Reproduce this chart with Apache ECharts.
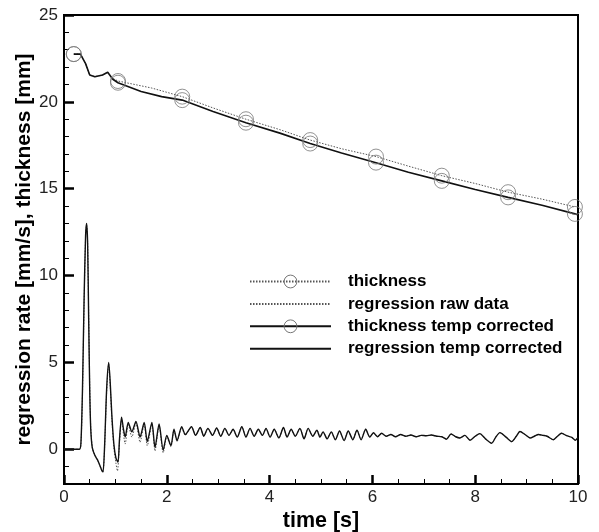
<!DOCTYPE html>
<html>
<head>
<meta charset="utf-8">
<script src="https://cdn.jsdelivr.net/npm/echarts@6/dist/echarts.min.js"></script>
<style>html,body{margin:0;padding:0;background:#fff}#c{width:599px;height:532px}</style>
</head>
<body>
<div id="c"></div>
<script>
// ---------- data ----------
const xTicks = [0, 2, 4, 6, 8, 10];
const yTicks = [0, 5, 10, 15, 20, 25];
const seriesNames = ['thickness', 'regression raw data', 'thickness temp corrected', 'regression temp corrected'];

// thickness (raw) line [t, mm]
const thickRaw = [[0.19,22.75],[0.32,22.75],[0.42,22.2],[0.5,21.55],[0.6,21.45],[0.75,21.55],[0.85,21.7],[0.95,21.35],[1.05,21.2],[1.7,20.8],[2.3,20.3],[2.9,19.65],[3.54,19.0],[4.2,18.4],[4.79,17.8],[5.4,17.3],[6.07,16.85],[6.7,16.3],[7.35,15.75],[8.0,15.3],[8.64,14.8],[9.3,14.4],[9.94,13.95]];
// thickness temp corrected line [t, mm]
const thickCorr = [[0.19,22.75],[0.32,22.75],[0.42,22.2],[0.5,21.55],[0.6,21.45],[0.75,21.55],[0.85,21.7],[0.95,21.3],[1.05,21.1],[1.5,20.6],[1.9,20.3],[2.3,20.1],[2.9,19.45],[3.54,18.8],[4.2,18.2],[4.79,17.6],[5.4,17.05],[6.07,16.5],[6.7,15.95],[7.35,15.45],[8.0,14.95],[8.64,14.5],[9.3,14.05],[9.94,13.55],[10,13.5]];
// circle markers
const markTimes = [0.19, 1.05, 2.3, 3.54, 4.79, 6.07, 7.35, 8.64, 9.94];
const markRaw = [22.75, 21.2, 20.3, 19.0, 17.8, 16.85, 15.75, 14.8, 13.95];
const markCorr = [22.75, 21.1, 20.1, 18.8, 17.6, 16.5, 15.45, 14.5, 13.55];

// regression temp corrected [t, mm/s]
const regCorr = [[0,0],[0.30,0],[0.33,0.4],[0.36,3.5],[0.39,8.5],[0.42,12.3],[0.44,13.0],[0.46,11.8],[0.48,7.5],[0.50,3.5],[0.52,1.2],[0.55,0.1],[0.60,-0.35],[0.65,-0.6],[0.70,-0.95],[0.74,-1.25],[0.76,-1.3],[0.79,0.2],[0.83,3.5],[0.87,5.0],[0.90,3.8],[0.93,2.0],[0.97,0.3],[1.01,-0.5],[1.05,-0.75],[1.08,0.6],[1.12,1.85],[1.16,1.1],[1.19,0.7],[1.25,1.55],[1.32,1.0],[1.40,1.6],[1.48,0.7],[1.56,1.55],[1.62,0.45],[1.71,1.55],[1.77,0.1],[1.85,1.45],[1.93,-0.05],[2.00,0.8],[2.08,0.2],[2.14,1.15],[2.20,0.5],[2.29,1.3],[2.36,0.85],[2.48,1.3],[2.56,0.8],[2.65,1.25],[2.72,0.75],[2.80,1.2],[2.89,0.8],[2.97,1.22],[3.05,0.75],[3.13,1.2],[3.21,0.8],[3.29,1.15],[3.37,0.7],[3.46,1.3],[3.54,0.7],[3.62,1.2],[3.70,0.75],[3.78,1.15],[3.86,0.8],[3.93,1.2],[4.01,0.7],[4.09,1.15],[4.18,0.65],[4.27,1.25],[4.34,0.7],[4.42,1.15],[4.50,0.75],[4.59,1.2],[4.67,0.6],[4.75,1.2],[4.84,0.75],[4.92,1.1],[4.98,0.7],[5.04,1.0],[5.12,0.6],[5.20,1.0],[5.28,0.55],[5.36,1.05],[5.45,0.5],[5.53,1.05],[5.62,0.55],[5.70,1.1],[5.78,0.55],[5.87,1.15],[5.95,0.7],[6.02,0.95],[6.10,0.72],[6.18,0.92],[6.27,0.75],[6.36,0.85],[6.45,0.72],[6.55,0.85],[6.65,0.75],[6.75,0.82],[6.85,0.72],[6.95,0.8],[7.05,0.78],[7.15,0.82],[7.25,0.75],[7.35,0.72],[7.44,0.58],[7.53,0.88],[7.62,0.72],[7.70,0.65],[7.80,0.8],[7.90,0.52],[8.00,0.75],[8.09,0.9],[8.20,0.6],[8.32,0.35],[8.40,0.7],[8.48,0.96],[8.60,0.7],[8.71,0.44],[8.80,0.75],[8.87,1.02],[8.97,0.85],[9.07,0.65],[9.15,0.75],[9.23,0.85],[9.32,0.8],[9.40,0.75],[9.52,0.55],[9.60,0.75],[9.68,0.92],[9.78,0.78],[9.88,0.68],[9.95,0.52],[10,0.68]];
// regression raw data [t, mm/s]
const regRaw = [[0,0],[0.30,0],[0.33,0.3],[0.36,3.2],[0.39,8.2],[0.42,12.2],[0.44,12.9],[0.46,11.9],[0.48,7.8],[0.50,3.8],[0.52,1.3],[0.55,0.15],[0.60,-0.35],[0.65,-0.6],[0.70,-0.95],[0.74,-1.25],[0.76,-1.3],[0.79,0.1],[0.83,3.3],[0.87,4.9],[0.90,3.6],[0.93,1.8],[0.97,0.1],[1.01,-0.8],[1.04,-1.25],[1.08,0.4],[1.12,1.7],[1.16,0.8],[1.19,0.3],[1.25,1.45],[1.32,0.7],[1.40,1.5],[1.48,0.4],[1.56,1.45],[1.62,0.2],[1.71,1.45],[1.77,-0.1],[1.85,1.35],[1.93,-0.2],[2.00,0.7],[2.08,0.15],[2.14,1.1],[2.20,0.45],[2.29,1.25],[2.36,0.8],[2.48,1.3],[2.56,0.8],[2.65,1.25],[2.72,0.75],[2.80,1.2],[2.89,0.8],[2.97,1.22],[3.05,0.75],[3.13,1.2],[3.21,0.8],[3.29,1.15],[3.37,0.7],[3.46,1.3],[3.54,0.7],[3.62,1.2],[3.70,0.75],[3.78,1.15],[3.86,0.8],[3.93,1.2],[4.01,0.7],[4.09,1.15],[4.18,0.65],[4.27,1.25],[4.34,0.7],[4.42,1.15],[4.50,0.75],[4.59,1.2],[4.67,0.6],[4.75,1.2],[4.84,0.75],[4.92,1.1],[4.98,0.7],[5.04,1.0],[5.12,0.6],[5.20,1.0],[5.28,0.55],[5.36,1.05],[5.45,0.5],[5.53,1.05],[5.62,0.55],[5.70,1.1],[5.78,0.55],[5.87,1.15],[5.95,0.7],[6.02,0.95],[6.10,0.72],[6.18,0.92],[6.27,0.75],[6.36,0.85],[6.45,0.72],[6.55,0.85],[6.65,0.75],[6.75,0.82],[6.85,0.72],[6.95,0.8],[7.05,0.78],[7.15,0.82],[7.25,0.75],[7.35,0.72],[7.44,0.58],[7.53,0.88],[7.62,0.72],[7.70,0.65],[7.80,0.8],[7.90,0.52],[8.00,0.75],[8.09,0.9],[8.20,0.6],[8.32,0.35],[8.40,0.7],[8.48,0.96],[8.60,0.7],[8.71,0.44],[8.80,0.75],[8.87,1.02],[8.97,0.85],[9.07,0.65],[9.15,0.75],[9.23,0.85],[9.32,0.8],[9.40,0.75],[9.52,0.55],[9.60,0.75],[9.68,0.92],[9.78,0.78],[9.88,0.68],[9.95,0.52],[10,0.68]];

// ---------- chart ----------
const FONT = 'Liberation Sans, Arial, Helvetica, sans-serif';
const chart = echarts.init(document.getElementById('c'), null, {renderer: 'canvas'});
const pairs = (ts, vs) => ts.map((t, i) => [t, vs[i]]);
const hollow = {color: 'transparent', borderColor: '#777', borderWidth: 1};
const hidden = {color: 'transparent', borderWidth: 0};

const option = {
  animation: false,
  backgroundColor: '#fff',
  grid: {left: 64, top: 15, right: 21, bottom: 48, outerBoundsMode: 'none', containLabel: false,
         show: true, borderColor: '#000', borderWidth: 2, backgroundColor: 'transparent'},
  legend: {
    orient: 'vertical', left: 249, top: 273, padding: 0,
    itemWidth: 81, itemHeight: 16, itemGap: 5.4,
    selectedMode: false,
    data: [
      {name: seriesNames[0], itemStyle: {color: 'transparent', borderColor: '#777', borderWidth: 1}},
      {name: seriesNames[1]},
      {name: seriesNames[2], itemStyle: {color: 'transparent', borderColor: '#777', borderWidth: 1}},
      {name: seriesNames[3]}
    ],
    textStyle: {fontFamily: FONT, fontSize: 17, fontWeight: 'bold', color: '#000', padding: [0, 0, 0, 12]}
  },
  xAxis: {
    type: 'value', min: 0, max: 10, interval: 2,
    axisLine: {show: true, onZero: false, lineStyle: {color: '#000', width: 2}},
    axisTick: {show: true, inside: true, length: 9, lineStyle: {color: '#000', width: 2.5}},
    minorTick: {show: true, splitNumber: 4, length: 5, lineStyle: {color: '#000', width: 1}},
    axisLabel: {fontFamily: FONT, fontSize: 17, color: '#222', margin: 5},
    splitLine: {show: false},
    name: 'time [s]', nameLocation: 'middle', nameGap: 26, nameMoveOverlap: false,
    nameTextStyle: {fontFamily: FONT, fontSize: 21.5, fontWeight: 'bold', color: '#000'}
  },
  yAxis: [{
    type: 'value', min: -2, max: 25,
    axisLine: {show: true, onZero: false, lineStyle: {color: '#000', width: 2}},
    axisTick: {show: true, inside: true, length: 10, lineStyle: {color: '#000', width: 2.5}, customValues: yTicks},
    axisLabel: {fontFamily: FONT, fontSize: 17, color: '#222', margin: 6, customValues: yTicks},
    splitLine: {show: false},
    name: 'regression rate [mm/s], thickness [mm]', nameLocation: 'middle', nameGap: 29, nameRotate: 90, nameMoveOverlap: false,
    nameTextStyle: {fontFamily: FONT, fontSize: 21, fontWeight: 'bold', color: '#000'}
  }, {
    type: 'value', min: -2, max: 25, interval: 1, position: 'left',
    axisLine: {show: false},
    axisTick: {show: true, inside: true, length: 5, lineStyle: {color: '#000', width: 1}},
    axisLabel: {show: false},
    splitLine: {show: false}
  }],
  series: [
    {name: seriesNames[0], type: 'line', data: thickRaw, showSymbol: false, symbol: 'circle',
     itemStyle: hollow, lineStyle: {color: '#555', width: 1, type: [1.5, 1.5]}, z: 2},
    {name: seriesNames[1], type: 'line', data: regRaw, showSymbol: false, symbol: 'circle', smooth: 0.25,
     itemStyle: hidden, lineStyle: {color: '#555', width: 1, type: [1.5, 1.5]}, z: 2},
    {name: seriesNames[2], type: 'line', data: thickCorr, showSymbol: false, symbol: 'circle',
     itemStyle: hollow, lineStyle: {color: '#111', width: 1.6}, z: 3},
    {name: seriesNames[3], type: 'line', data: regCorr, showSymbol: false, symbol: 'circle', smooth: 0.25,
     itemStyle: hidden, lineStyle: {color: '#111', width: 1.4}, z: 3},
    {name: 'mRaw', type: 'scatter', data: pairs(markTimes, markRaw), symbol: 'circle', symbolSize: 15,
     itemStyle: hollow, z: 4, silent: true},
    {name: 'mCorr', type: 'scatter', data: pairs(markTimes, markCorr), symbol: 'circle', symbolSize: 15,
     itemStyle: hollow, z: 4, silent: true}
  ]
};
chart.setOption(option);
</script>
</body>
</html>
